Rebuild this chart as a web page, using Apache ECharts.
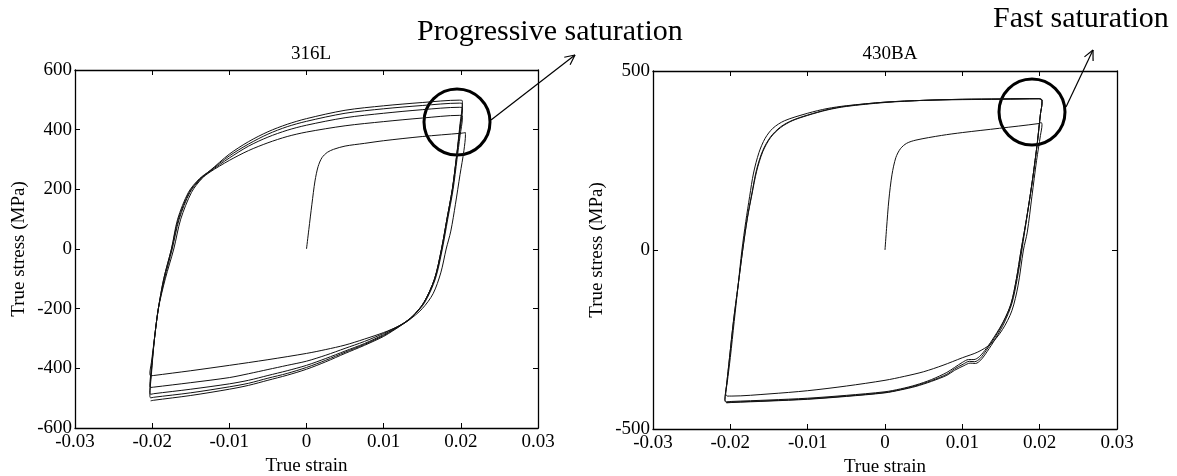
<!DOCTYPE html>
<html>
<head>
<meta charset="utf-8">
<script src="https://cdn.jsdelivr.net/npm/echarts@6/dist/echarts.min.js"></script>
<style>
  html, body { margin: 0; padding: 0; background: #fff; }
  #main { width: 1177px; height: 476px; }
</style>
</head>
<body>
<div id="main"></div>
<script>
// axis ticks
const strainTicks = [-0.03, -0.02, -0.01, 0, 0.01, 0.02, 0.03];
const stressTicks316 = [-600, -400, -200, 0, 200, 400, 600];
const stressTicks430 = [-500, 0, 500];

// 316L : first loading + cycles  [strain, stress MPa]
const mono316 = [[0,0],[0.0003,65],[0.0007,150],[0.0011,228],[0.0015,276],[0.002,306],[0.0027,324],[0.0035,334],[0.005,345],[0.0075,354],[0.01,363],[0.015,377],[0.02,388],[0.0206,390]];
const down316_1 = [[0.0206,384],[0.0204,330],[0.0199,250],[0.0193,150],[0.0187,60],[0.0181,0],[0.0174,-80],[0.0164,-150],[0.015,-200],[0.0132,-240],[0.012,-258],[0.01,-280],[0.0075,-302],[0.005,-322],[0.0025,-337],[0,-350],[-0.005,-371],[-0.01,-390],[-0.015,-408],[-0.0198,-424],[-0.0202,-425]];
const up316_1 = [[-0.0203,-418],[-0.0201,-380],[-0.0197,-300],[-0.0192,-200],[-0.0183,-100],[-0.0172,0],[-0.0163,100],[-0.0149,190],[-0.0136,235],[-0.0125,258],[-0.01,297],[-0.0075,330],[-0.005,356],[-0.0025,377],[0,392],[0.005,413],[0.01,427],[0.015,439],[0.0198,448],[0.0202,446]];
const down316_2 = [[0.0202,440],[0.0199,380],[0.0195,300],[0.019,200],[0.0183,100],[0.0176,0],[0.0167,-100],[0.0153,-180],[0.0138,-225],[0.0125,-250],[0.0112,-268],[0.01,-283],[0.0075,-310],[0.005,-333],[0.0025,-356],[0,-376],[-0.0025,-390],[-0.005,-404],[-0.0075,-418],[-0.01,-431],[-0.015,-448],[-0.0198,-463],[-0.0202,-464]];
const up316_2 = [[-0.0203,-458],[-0.0201,-400],[-0.0197,-300],[-0.0192,-200],[-0.0184,-100],[-0.0174,0],[-0.0165,100],[-0.0151,190],[-0.0137,235],[-0.0125,260],[-0.01,305],[-0.0075,345],[-0.005,375],[-0.0025,398],[0,415],[0.005,440],[0.01,455],[0.015,467],[0.0198,475],[0.0202,473]];
const down316_3 = [[0.0202,466],[0.0199,400],[0.0194,300],[0.0189,200],[0.0182,100],[0.0175,0],[0.0166,-100],[0.0152,-180],[0.0137,-226],[0.0125,-250],[0.0112,-270],[0.01,-287],[0.0075,-317],[0.005,-342],[0.0025,-367],[0,-390],[-0.0025,-408],[-0.005,-424],[-0.0075,-440],[-0.01,-452],[-0.015,-470],[-0.0198,-485],[-0.0202,-487]];
const up316_3 = [[-0.0203,-481],[-0.0201,-410],[-0.0197,-300],[-0.0192,-200],[-0.0185,-100],[-0.0175,0],[-0.0166,100],[-0.0152,190],[-0.0138,235],[-0.0125,262],[-0.01,312],[-0.0075,352],[-0.005,385],[-0.0025,410],[0,428],[0.005,455],[0.01,470],[0.015,481],[0.0198,489],[0.0202,487]];
const down316_4 = [[0.0202,480],[0.0199,410],[0.0194,300],[0.0189,200],[0.0182,100],[0.0175,0],[0.0166,-100],[0.0152,-180],[0.0137,-227],[0.0125,-251],[0.0112,-272],[0.01,-290],[0.0075,-320],[0.005,-346],[0.0025,-373],[0,-397],[-0.0025,-417],[-0.005,-433],[-0.0075,-450],[-0.01,-462],[-0.015,-482],[-0.0198,-497],[-0.0202,-499]];
const up316_4 = [[-0.0203,-492],[-0.0201,-420],[-0.0197,-300],[-0.0192,-200],[-0.0185,-100],[-0.0175,0],[-0.0167,100],[-0.0153,190],[-0.0139,235],[-0.0125,263],[-0.01,318],[-0.0075,360],[-0.005,393],[-0.0025,418],[0,437],[0.005,465],[0.01,480],[0.015,491],[0.0198,499],[0.0202,497]];
const down316_5 = [[0.0202,490],[0.0199,420],[0.0194,300],[0.0189,200],[0.0182,100],[0.0175,0],[0.0166,-100],[0.0152,-180],[0.0137,-228],[0.0125,-252],[0.0112,-274],[0.01,-293],[0.0075,-323],[0.005,-350],[0.0025,-378],[0,-403],[-0.0025,-423],[-0.005,-440],[-0.0075,-457],[-0.01,-470],[-0.015,-491],[-0.0198,-507],[-0.0202,-509]];

// 430BA : first loading + cycles
const mono430 = [[0,0],[0.0002,60],[0.0005,140],[0.0009,210],[0.0014,258],[0.002,283],[0.0028,298],[0.004,307],[0.0073,320],[0.01,328],[0.0148,340],[0.0198,353],[0.0202,356]];
const down430_1 = [[0.0203,350],[0.0201,320],[0.0196,250],[0.019,150],[0.0184,50],[0.0179,0],[0.0172,-100],[0.0164,-170],[0.0152,-222],[0.0137,-262],[0.012,-285],[0.01,-301],[0.0075,-322],[0.005,-340],[0.0025,-353],[0,-364],[-0.005,-380],[-0.01,-393],[-0.015,-402],[-0.0198,-408],[-0.0204,-408]];
const up430_1 = [[-0.0206,-402],[-0.0204,-370],[-0.02,-300],[-0.0195,-200],[-0.019,-100],[-0.0185,0],[-0.018,80],[-0.0175,150],[-0.017,215],[-0.0163,272],[-0.0155,312],[-0.0145,340],[-0.013,361],[-0.01,382],[-0.0075,395],[-0.005,403],[0,413],[0.005,418],[0.01,420],[0.015,421],[0.0199,422],[0.0203,418]];
const down430_2 = [[0.0203,410],[0.0201,380],[0.0197,300],[0.0191,200],[0.0184,100],[0.0176,0],[0.017,-80],[0.0163,-150],[0.0153,-200],[0.0142,-240],[0.0131,-275],[0.0122,-298],[0.0115,-306],[0.0108,-306],[0.01,-314],[0.009,-328],[0.008,-342],[0.006,-362],[0.004,-377],[0.002,-388],[0,-396],[-0.005,-406],[-0.01,-414],[-0.015,-419],[-0.0198,-423],[-0.0205,-424]];
const up430_2 = [[-0.0207,-418],[-0.0205,-380],[-0.0201,-300],[-0.0196,-200],[-0.019,-100],[-0.0184,0],[-0.0178,90],[-0.0172,160],[-0.0166,225],[-0.0158,278],[-0.0148,316],[-0.0135,344],[-0.012,362],[-0.01,377],[-0.0075,392],[-0.005,402],[0,413],[0.005,418],[0.01,421],[0.015,422],[0.0199,423],[0.0203,419]];
const down430_3 = [[0.0203,411],[0.0201,380],[0.0197,300],[0.0191,200],[0.0184,100],[0.0176,0],[0.017,-80],[0.0163,-150],[0.0153,-202],[0.0142,-244],[0.0131,-280],[0.0123,-303],[0.0116,-312],[0.0109,-311],[0.0101,-319],[0.009,-332],[0.008,-347],[0.006,-365],[0.004,-379],[0.002,-390],[0,-398],[-0.005,-408],[-0.01,-416],[-0.015,-421],[-0.0198,-425],[-0.0205,-426]];
const up430_3 = [[-0.0207,-420],[-0.0205,-380],[-0.0201,-300],[-0.0196,-200],[-0.019,-100],[-0.0184,0],[-0.0178,88],[-0.0172,156],[-0.0166,220],[-0.0158,275],[-0.0148,314],[-0.0135,342],[-0.012,361],[-0.01,376],[-0.0075,391],[-0.005,401],[0,412],[0.005,418],[0.01,421],[0.015,422],[0.0199,423],[0.0203,419]];
const down430_4 = [[0.0203,411],[0.0201,380],[0.0197,300],[0.0191,200],[0.0184,100],[0.0177,0],[0.0171,-80],[0.0164,-150],[0.0154,-204],[0.0143,-247],[0.0132,-284],[0.0124,-307],[0.0117,-317],[0.011,-316],[0.0102,-323],[0.009,-336],[0.008,-350],[0.006,-367],[0.004,-381],[0.002,-391],[0,-399],[-0.005,-409],[-0.01,-417],[-0.015,-422],[-0.0198,-426],[-0.0205,-427]];

const path316 = [].concat(mono316, down316_1, up316_1, down316_2, up316_2, down316_3, up316_3, down316_4, up316_4, down316_5);
const path430 = [].concat(mono430, down430_1, up430_1, down430_2, up430_2, down430_3, up430_3, down430_4);

const font = 'Liberation Serif';
const ink = '#000';

function ends(arr) { return { min: arr[0], max: arr[arr.length - 1], interval: arr[1] - arr[0] }; }

function xAxes(gi) {
  const r = ends(strainTicks);
  const base = {
    gridIndex: gi, type: 'value', min: r.min, max: r.max, interval: 0.01,
    axisLine: { onZero: false, lineStyle: { color: ink, width: 1.3 } },
    axisTick: { inside: true, length: 5, lineStyle: { color: ink, width: 1 } },
    splitLine: { show: false }
  };
  return [
    Object.assign({}, base, {
      position: 'bottom',
      axisLabel: { color: ink, fontSize: 19, fontFamily: font, margin: 5 },
      name: 'True strain', nameLocation: 'middle', nameGap: 29,
      nameTextStyle: { color: ink, fontSize: 19, fontFamily: font }
    }),
    Object.assign({}, base, { position: 'top', axisLabel: { show: false } })
  ];
}

function yAxes(gi, ticks) {
  const r = ends(ticks);
  const base = {
    gridIndex: gi, type: 'value', min: r.min, max: r.max, interval: r.interval,
    axisLine: { onZero: false, lineStyle: { color: ink, width: 1.3 } },
    axisTick: { inside: true, length: 5, lineStyle: { color: ink, width: 1 } },
    splitLine: { show: false }
  };
  return [
    Object.assign({}, base, {
      position: 'left',
      axisLabel: { color: ink, fontSize: 19, fontFamily: font, margin: 3 },
      name: 'True stress (MPa)', nameLocation: 'middle', nameGap: 46,
      nameTextStyle: { color: ink, fontSize: 19, fontFamily: font }
    }),
    Object.assign({}, base, { position: 'right', axisLabel: { show: false } })
  ];
}

function arrow(x1, y1, x2, y2) {
  const a = Math.atan2(y2 - y1, x2 - x1);
  const h = 11, s = 0.45;
  const st = { stroke: ink, lineWidth: 1.2 };
  return [
    { type: 'line', shape: { x1: x1, y1: y1, x2: x2, y2: y2 }, style: st },
    { type: 'line', shape: { x1: x2, y1: y2, x2: x2 - h * Math.cos(a - s), y2: y2 - h * Math.sin(a - s) }, style: st },
    { type: 'line', shape: { x1: x2, y1: y2, x2: x2 - h * Math.cos(a + s), y2: y2 - h * Math.sin(a + s) }, style: st }
  ];
}

const chart = echarts.init(document.getElementById('main'));

const option = {
  animation: false,
  backgroundColor: '#fff',
  title: [
    { text: '316L', left: 306, top: 40, textAlign: 'center', textStyle: { color: ink, fontSize: 19, fontWeight: 'normal', fontFamily: font } },
    { text: '430BA', left: 885, top: 40, textAlign: 'center', textStyle: { color: ink, fontSize: 19, fontWeight: 'normal', fontFamily: font } }
  ],
  grid: [
    { left: 75, top: 70, width: 463, height: 358, outerBoundsMode: 'none' },
    { left: 653, top: 71, width: 464, height: 358, outerBoundsMode: 'none' }
  ],
  xAxis: xAxes(0).concat(xAxes(1)),
  yAxis: yAxes(0, stressTicks316).concat(yAxes(1, stressTicks430)),
  series: [
    { name: '316L', type: 'line', xAxisIndex: 0, yAxisIndex: 0, data: path316, showSymbol: false, smooth: 0.3, lineStyle: { color: '#111', width: 1 } },
    { name: '430BA', type: 'line', xAxisIndex: 2, yAxisIndex: 2, data: path430, showSymbol: false, smooth: 0.3, lineStyle: { color: '#111', width: 1 } }
  ],
  graphic: [
    { type: 'text', left: 417, top: 17, style: { text: 'Progressive saturation', fill: ink, font: '30px "Liberation Serif"' } },
    { type: 'text', left: 993, top: 4, style: { text: 'Fast saturation', fill: ink, font: '30px "Liberation Serif"' } },
    { type: 'circle', shape: { cx: 457, cy: 122, r: 33 }, style: { fill: 'none', stroke: ink, lineWidth: 3 } },
    { type: 'circle', shape: { cx: 1032, cy: 112, r: 33 }, style: { fill: 'none', stroke: ink, lineWidth: 3 } }
  ].concat(arrow(491, 120, 575, 55), arrow(1066, 107, 1093, 50))
};

chart.setOption(option);
</script>
</body>
</html>
